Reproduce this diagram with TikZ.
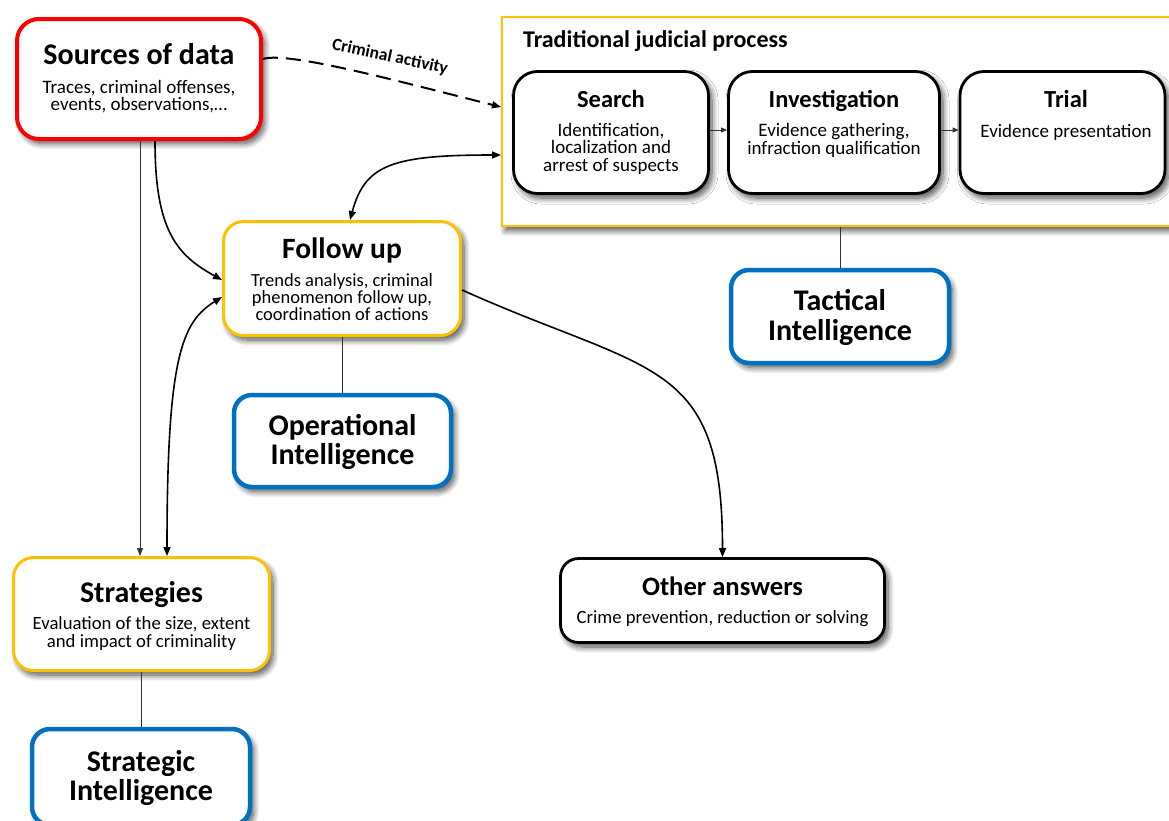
\documentclass[tikz,border=0pt]{standalone}
\usepackage{fontspec}
\setmainfont{Carlito}
\usetikzlibrary{arrows.meta,shadows.blur,calc}

\definecolor{srcred}{RGB}{255,0,0}
\definecolor{ambr}{RGB}{255,192,0}
\definecolor{intblue}{RGB}{0,112,192}

% centred card text: width, title size, title, gap, body size, body skip, body
\newcommand{\cardtext}[7]{\parbox[t]{#1}{\centering\lineskiplimit=-20pt
  {\fontsize{#2}{#2}\selectfont\bfseries #3}\\[#4]\fontsize{#5}{#6}\selectfont #7}}
% two-line bold heading of an intelligence card
\newcommand{\inteltext}[1]{\parbox[t]{210pt}{\centering\lineskiplimit=-20pt
  \fontsize{30}{29.5}\selectfont\bfseries #1}}

\begin{document}
\begin{tikzpicture}[x=1pt,y=-1pt,
  card/.style={rectangle, rounded corners=20pt, fill=white, inner sep=0pt,
    blur shadow={shadow xshift=3.5pt, shadow yshift=-4.5pt, shadow blur radius=6pt,
      shadow blur steps=10, shadow opacity=70}},
  srcbox/.style={card, draw=srcred, line width=4pt, rounded corners=22pt},
  stagebox/.style={card, draw=ambr, line width=3pt},
  intelbox/.style={card, draw=intblue, line width=4.5pt, rounded corners=18pt},
  stepbox/.style={card, draw=black, line width=2.8pt, rounded corners=24pt},
  txt/.style={anchor=base, inner sep=0pt},
  flow/.style={line width=1.6pt, -{Triangle[length=9pt,width=7pt]}},
  both/.style={line width=1.6pt, {Triangle[length=9pt,width=7pt]}-{Triangle[length=9pt,width=7pt]}},
  link/.style={line width=0.8pt, draw=black!80}
]
\useasboundingbox (0,0) rectangle (1169,820);
\clip (0,0) rectangle (1169,820);

% ---- sources
\node[srcbox, minimum width=244pt, minimum height=120pt] (src) at (139,79) {};
\node[txt] (srcText) at (139,64.5)
  {\cardtext{240pt}{30}{Sources of data}{11pt}{19}{17.5}{Traces, criminal offenses,\\events, observations,…}};

% ---- traditional judicial process
\node[stagebox, line width=2pt, rounded corners=0pt, minimum width=690pt, minimum height=209pt,
  anchor=north west] (jud) at (501,16) {};
\node[anchor=base west, inner sep=0pt, font=\fontsize{24}{24}\selectfont\bfseries] (judtitle) at (523,47)
  {Traditional judicial process};

\node[stepbox, minimum width=195pt, minimum height=122pt] (search) at (611,132.5) {};
\node[txt] (searchText) at (611,107)
  {\cardtext{190pt}{24.5}{Search}{11.5pt}{19}{17.5}{Identification,\\localization and\\arrest of suspects}};
\node[stepbox, minimum width=211pt, minimum height=122pt] (inv) at (834,132.5) {};
\node[txt] (invText) at (834,107.5)
  {\cardtext{205pt}{24.5}{Investigation}{11.5pt}{19}{17.5}{Evidence gathering,\\infraction qualification}};
\node[stepbox, minimum width=205pt, minimum height=122pt] (trial) at (1062.5,132.5) {};
\node[txt] (trialText) at (1066,107.5)
  {\cardtext{200pt}{24.5}{Trial}{12pt}{19}{17.5}{Evidence presentation}};

% ---- follow up, strategies, other answers
\node[stagebox, minimum width=237pt, minimum height=114pt] (fu) at (342,278.5) {};
\node[txt] (fuText) at (342,258)
  {\cardtext{235pt}{29.5}{Follow up}{11.5pt}{18.5}{17}{Trends analysis, criminal\\phenomenon follow up,\\coordination of actions}};
\node[stagebox, minimum width=256pt, minimum height=113pt] (strat) at (141.5,614) {};
\node[txt] (stratText) at (141.5,602)
  {\cardtext{254pt}{30}{Strategies}{9.6pt}{18.7}{17.7}{Evaluation of the size, extent\\and impact of criminality}};
\node[stepbox, rounded corners=18pt, minimum width=324pt, minimum height=84pt] (other) at (722.5,600.5) {};
\node[txt] (otherText) at (722.5,595)
  {\cardtext{320pt}{26.6}{Other answers}{11pt}{18.7}{17.5}{Crime prevention, reduction or solving}};

% ---- intelligence levels
\node[intelbox, minimum width=217pt, minimum height=92pt] (opint) at (342.5,441) {};
\node[txt] (opintText) at (342.5,435) {\inteltext{Operational\\Intelligence}};
\node[intelbox, minimum width=218pt, minimum height=93pt] (tact) at (840,316.5) {};
\node[txt] (tactText) at (840,310.5) {\inteltext{Tactical\\Intelligence}};
\node[intelbox, minimum width=218pt, minimum height=96pt] (stratint) at (141,777) {};
\node[txt] (stratintText) at (141,771) {\inteltext{Strategic\\Intelligence}};

% ---- connectors
\draw[flow, line width=2pt, dash pattern=on 15pt off 8pt] ([yshift=20pt]src.east)
  .. controls +(25,-8) and +(-100,-25) .. ([yshift=14.5pt]jud.west);
\node[rotate=-12, inner sep=0pt, font=\fontsize{17.5}{18}\selectfont\bfseries] (crimlbl) at (390,57)
  {Criminal activity};

\draw[link, -{Triangle[length=8pt,width=6pt]}] ([xshift=1pt]src.south) -- ([xshift=1pt]src.south |- strat.north);
\draw[flow] ([xshift=16pt]src.south) .. controls +(0,90) and +(-45,-25) .. ([yshift=-1.5pt]fu.west);
\draw[both] ([xshift=25.5pt]strat.north) .. controls +(0,-200) and +(-40,25) .. ([yshift=-18.5pt]fu.west);
\draw[both] ([xshift=8pt]fu.north) .. controls +(15,-55) and +(-110,0) .. ([yshift=-33.5pt]jud.west);
\draw[flow] ([yshift=-11.5pt]fu.east) .. controls +(190,85) and +(0,-200) .. (other.north);

\draw[link, -{Triangle[length=6pt,width=5pt]}] ([yshift=2.5pt]search.east) -- ([yshift=2.5pt]inv.west);
\draw[link, -{Triangle[length=6pt,width=5pt]}] ([yshift=2.5pt]inv.east) -- ([yshift=2.5pt]trial.west);

\draw[link] (fu.south) -- (fu.south |- opint.north);
\draw[link] (tact.north) -- (tact.north |- jud.south);
\draw[link] (strat.south) -- (strat.south |- stratint.north);
\end{tikzpicture}
\end{document}
